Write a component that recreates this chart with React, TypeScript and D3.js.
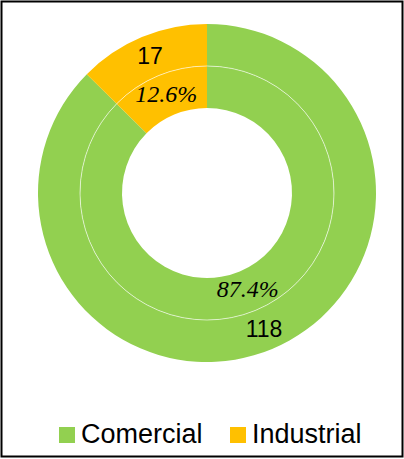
import React, { useEffect, useRef } from "react";
import * as d3 from "d3";

const categories = ["Comercial", "Industrial"];
const counts = [118, 17];
const percents = [87.4, 12.6];
const colors = ["#92D050", "#FFC000"];

const App: React.FC = () => {
  const svgRef = useRef<SVGSVGElement | null>(null);

  useEffect(() => {
    const svg = d3.select(svgRef.current);
    svg.selectAll("*").remove();

    const width = 404;
    const height = 459;
    const cx = 207;
    const cy = 193;
    const outerR = 169;
    const midR = 127;
    const innerR = 85;

    // frame
    svg
      .append("rect")
      .attr("x", 1.5)
      .attr("y", 1.5)
      .attr("width", width - 3)
      .attr("height", height - 4)
      .attr("fill", "white")
      .attr("stroke", "black")
      .attr("stroke-width", 2);

    const pie = d3
      .pie<number>()
      .sort(null)
      .value((d) => d);

    const g = svg.append("g").attr("transform", `translate(${cx},${cy})`);

    const outerArc = d3.arc<d3.PieArcDatum<number>>().innerRadius(midR).outerRadius(outerR);
    const innerArc = d3.arc<d3.PieArcDatum<number>>().innerRadius(innerR).outerRadius(midR);

    const outerData = pie(counts);
    const innerData = pie(percents);

    g.selectAll(".outer")
      .data(outerData)
      .enter()
      .append("path")
      .attr("class", "outer")
      .attr("d", outerArc)
      .attr("fill", (_d, i) => colors[i]);

    g.selectAll(".inner")
      .data(innerData)
      .enter()
      .append("path")
      .attr("class", "inner")
      .attr("d", innerArc)
      .attr("fill", (_d, i) => colors[i]);

    // thin ring separator
    g.append("circle")
      .attr("r", midR)
      .attr("fill", "none")
      .attr("stroke", "white")
      .attr("stroke-opacity", 0.6)
      .attr("stroke-width", 1);

    // count labels (outer ring)
    g.selectAll(".count")
      .data(outerData)
      .enter()
      .append("text")
      .attr("class", "count")
      .attr("transform", (d) => {
        const [x, y] = outerArc.centroid(d);
        return `translate(${x},${y - 1})`;
      })
      .attr("text-anchor", "middle")
      .attr("dy", "0.36em")
      .style("font-family", "'Liberation Sans', Arial, sans-serif")
      .style("font-size", "23px")
      .attr("fill", "black")
      .text((d) => String(d.data));

    // percent labels (inner ring)
    g.selectAll(".pct")
      .data(innerData)
      .enter()
      .append("text")
      .attr("class", "pct")
      .attr("transform", (d) => {
        const [x, y] = innerArc.centroid(d);
        return `translate(${x},${y - 2})`;
      })
      .attr("text-anchor", "middle")
      .attr("dy", "0.35em")
      .style("font-family", "'Liberation Serif', 'Times New Roman', serif")
      .style("font-style", "italic")
      .style("font-size", "24px")
      .attr("fill", "black")
      .text((d) => `${d.data.toFixed(1)}%`);

    // legend
    const legendX = [59, 230];
    const legend = svg
      .selectAll(".legend")
      .data(categories)
      .enter()
      .append("g")
      .attr("class", "legend")
      .attr("transform", (_d, i) => `translate(${legendX[i]},427)`);

    legend
      .append("rect")
      .attr("width", 16)
      .attr("height", 16)
      .attr("fill", (_d, i) => colors[i]);

    legend
      .append("text")
      .attr("x", 22)
      .attr("y", 16)
      .style("font-family", "'Liberation Sans', Arial, sans-serif")
      .style("font-size", "27px")
      .attr("fill", "black")
      .text((d) => d);
  }, []);

  return (
    <svg
      ref={svgRef}
      width={404}
      height={459}
      style={{ position: "absolute", left: 0, top: 0 }}
    ></svg>
  );
};

export default App;
